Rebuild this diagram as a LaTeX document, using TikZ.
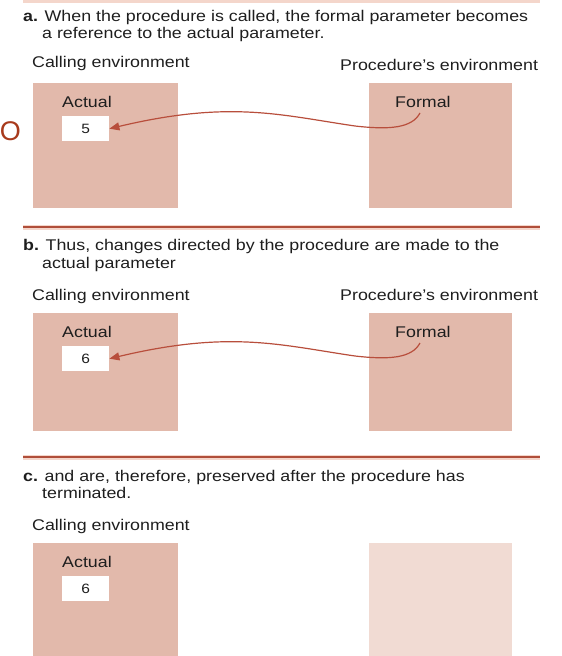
\documentclass[tikz,border=0pt]{standalone}
\usepackage{fontspec}
\setmainfont{Liberation Sans}[FakeStretch=1.15]
\newfontfamily\plainsans{Liberation Sans}
\usetikzlibrary{arrows.meta}

\definecolor{envfill}{RGB}{226,185,171}
\definecolor{envfaint}{RGB}{241,219,211}
\definecolor{rulecol}{RGB}{176,78,58}
\definecolor{rulehalo}{RGB}{244,214,203}
\definecolor{refcol}{RGB}{184,78,60}
\definecolor{inkcol}{RGB}{30,30,30}
\definecolor{bigocol}{RGB}{168,58,28}

\tikzset{
  txt/.style={anchor=base west, inner sep=0pt, text=inkcol, font=\fontsize{15.5}{18}\selectfont},
  envbox/.style={anchor=north west, fill=envfill, draw=none, inner sep=0pt,
                 minimum width=145pt, minimum height=125pt},
  valbox/.style={anchor=north west, fill=white, draw=none, inner sep=0pt,
                 minimum width=47pt, minimum height=25pt, text=inkcol,
                 font=\fontsize{13.5}{13.5}\selectfont},
  refarrow/.style={draw=refcol, line width=1.2pt,
                   -{Triangle[length=10pt,width=8pt]}},
  halo/.style={draw=rulehalo, line width=5pt},
  sepline/.style={draw=rulecol, line width=2.6pt}
}

\begin{document}
\begin{tikzpicture}[x=1pt,y=-1pt]
\useasboundingbox (0,0) rectangle (562,656);

% faint rule at the top edge
\coordinate (r0a) at (23,1);
\coordinate (r0b) at (540,1);
\draw[draw=rulehalo, line width=3pt] (r0a) -- (r0b);

% ---------- part a ----------
\node[txt] (ta1) at (23,21) {\textbf{a.} When the procedure is called, the formal parameter becomes};
\node[txt] (ta2) at (42,38) {a reference to the actual parameter.};
\node[txt] (calA) at (32,67) {Calling environment};
\node[txt] (proA) at (340,70) {Procedure’s environment};

\node[envbox] (callA) at (33,83) {};
\node[envbox, minimum width=143pt] (procA) at (369,83) {};
\node[txt] (actA) at (62,107) {Actual};
\node[valbox] (valA) at (62,116) {5};
\node[txt] (forA) at (395,107) {Formal};

\node[inner sep=0pt, text=bigocol, font=\plainsans\fontsize{27}{27}\selectfont] (bigO) at (10.5,131) {O};

\coordinate (fsA) at (420,113);
\coordinate (fmA) at (355,126);
\draw[refarrow] (fsA) .. controls (412,128) and (390,130) .. (fmA)
  .. controls (280,115) and (230,100) .. (valA.east);

% ---------- part b ----------
\coordinate (r1a) at (23,227);
\coordinate (r1b) at (540,227);
\draw[halo] (r1a) -- (r1b);
\draw[sepline] (r1a) -- (r1b);

\node[txt] (tb1) at (23,250) {\textbf{b.} Thus, changes directed by the procedure are made to the};
\node[txt] (tb2) at (42,268) {actual parameter};
\node[txt] (calB) at (32,300) {Calling environment};
\node[txt] (proB) at (340,300) {Procedure’s environment};

\node[envbox, minimum height=118pt] (callB) at (33,313) {};
\node[envbox, minimum width=143pt, minimum height=118pt] (procB) at (369,313) {};
\node[txt] (actB) at (62,337) {Actual};
\node[valbox] (valB) at (62,346) {6};
\node[txt] (forB) at (395,337) {Formal};

\coordinate (fsB) at (420,343);
\coordinate (fmB) at (355,356);
\draw[refarrow] (fsB) .. controls (412,358) and (390,360) .. (fmB)
  .. controls (280,345) and (230,330) .. (valB.east);

% ---------- part c ----------
\coordinate (r2a) at (23,457);
\coordinate (r2b) at (540,457);
\draw[halo] (r2a) -- (r2b);
\draw[sepline] (r2a) -- (r2b);

\node[txt] (tc1) at (23,481) {\textbf{c.} and are, therefore, preserved after the procedure has};
\node[txt] (tc2) at (42,498) {terminated.};
\node[txt] (calC) at (32,530) {Calling environment};

\node[envbox, minimum height=120pt] (callC) at (33,543) {};
\node[envbox, fill=envfaint, minimum width=143pt, minimum height=120pt] (procC) at (369,543) {};
\node[txt] (actC) at (62,567) {Actual};
\node[valbox] (valC) at (62,576) {6};
\end{tikzpicture}
\end{document}
